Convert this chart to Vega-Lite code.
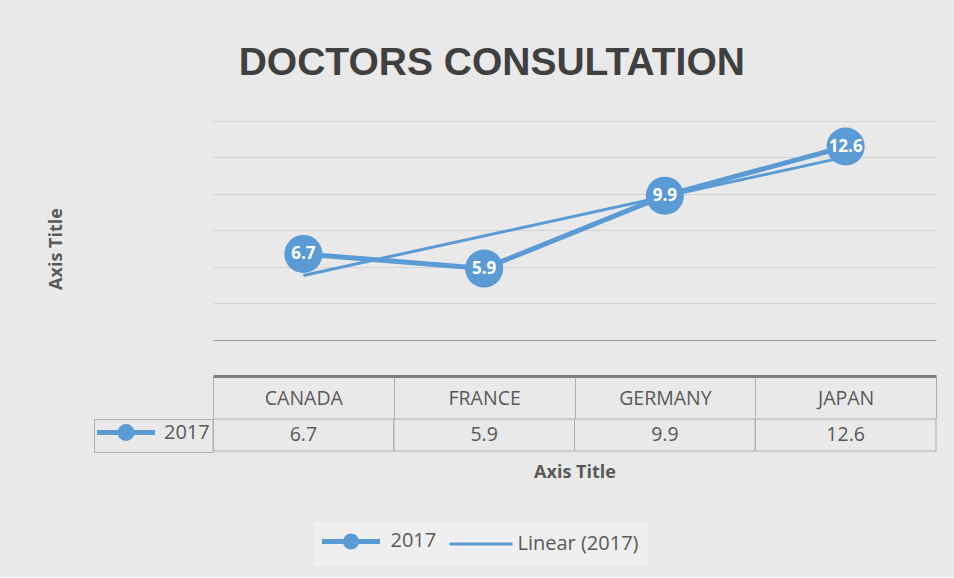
{
  "$schema": "https://vega.github.io/schema/vega-lite/v6.json",
  "background": "#e9e9e9",
  "padding": {"left": 47, "top": 44, "right": 18, "bottom": 11},
  "datasets": {
    "obs": [
      {"country": "CANADA", "value": 6.7, "series": "2017"},
      {"country": "FRANCE", "value": 5.9, "series": "2017"},
      {"country": "GERMANY", "value": 9.9, "series": "2017"},
      {"country": "JAPAN", "value": 12.6, "series": "2017"}
    ],
    "trend": [
      {"country": "CANADA", "value": 5.52, "series": "Linear (2017)"},
      {"country": "JAPAN", "value": 12.03, "series": "Linear (2017)"}
    ]
  },
  "title": {
    "text": "DOCTORS CONSULTATION",
    "font": "Liberation Sans",
    "fontSize": 39,
    "fontWeight": "bold",
    "color": "#404040",
    "anchor": "middle",
    "offset": 38
  },
  "spacing": 43,
  "bounds": "flush",
  "resolve": {"scale": {"stroke": "independent"}, "legend": {"stroke": "independent"}},
  "vconcat": [
    {
      "width": 723,
      "height": 255,
      "encoding": {
        "x": {
          "field": "country", "type": "nominal",
          "sort": ["CANADA", "FRANCE", "GERMANY", "JAPAN"],
          "scale": {"paddingInner": 0, "paddingOuter": 0},
          "axis": {
            "title": null, "labelAngle": 0, "labelFontSize": 19.5, "labelColor": "#595959",
            "labelPadding": -29, "tickBand": "extent", "ticks": true, "tickSize": 42,
            "tickColor": "#b0b0b0", "tickWidth": 1, "domainColor": "#808080", "domainWidth": 3, "grid": false
          }
        },
        "y": {
          "field": "value", "type": "quantitative",
          "scale": {"domain": [0, 14], "nice": false},
          "axis": {
            "title": "Axis Title", "titleFontSize": 18, "titleFontWeight": "bold", "titleColor": "#595959",
            "titlePadding": 148, "labels": false, "ticks": false, "domain": false,
            "values": [2, 4, 6, 8, 10, 12, 14],
            "gridColor": {"condition": {"test": "datum.value === 2", "value": "#9a9a9a"}, "value": "#d4d4d4"},
            "gridWidth": 1
          }
        }
      },
      "layer": [
        {
          "data": {"name": "obs"},
          "mark": {"type": "line", "strokeWidth": 5},
          "encoding": {
            "color": {
              "field": "series", "type": "nominal",
              "scale": {"domain": ["2017", "Linear (2017)"], "range": ["#5b9bd5", "#5b9bd5"]},
              "legend": {
                "orient": "none", "legendX": 100.5, "legendY": 401, "direction": "horizontal",
                "title": null, "padding": 8.5, "fillColor": "#efefef",
                "labelFontSize": 20, "labelColor": "#595959",
                "symbolSize": 256, "symbolStrokeWidth": 5, "symbolOffset": 18.5,
                "symbolFillColor": "#5b9bd5", "symbolStrokeColor": "#5b9bd5", "symbolOpacity": 1,
                "labelOffset": 29, "columnPadding": 6
              }
            }
          }
        },
        {
          "data": {"name": "obs"},
          "mark": {"type": "circle", "size": 1450, "opacity": 1},
          "encoding": {"color": {"field": "series", "type": "nominal"}}
        },
        {
          "data": {"name": "trend"},
          "mark": {"type": "line", "strokeWidth": 3},
          "encoding": {"color": {"field": "series", "type": "nominal"}}
        },
        {
          "data": {"name": "obs"},
          "mark": {"type": "point", "opacity": 0, "filled": true},
          "encoding": {
            "shape": {
              "field": "series", "type": "nominal",
              "scale": {
                "domain": ["2017", "Linear (2017)"],
                "range": [
                  "M-3.625,0H3.625M0.69,0A0.69,0.69 0 1,1 -0.69,0A0.69,0.69 0 1,1 0.69,0",
                  "M-3.625,0H4.25"
                ]
              },
              "legend": {
                "orient": "none", "legendX": 100.5, "legendY": 401, "direction": "horizontal",
                "title": null, "padding": 8.5, "fillColor": "#efefef",
                "labelFontSize": 20, "labelColor": "#595959",
                "symbolSize": 256, "symbolStrokeWidth": 5, "symbolOffset": 18.5,
                "symbolFillColor": "#5b9bd5", "symbolStrokeColor": "#5b9bd5", "symbolOpacity": 1,
                "labelOffset": 29, "columnPadding": 6
              }
            },
            "strokeWidth": {
              "field": "series", "type": "nominal",
              "scale": {"domain": ["2017", "Linear (2017)"], "range": [5, 3]},
              "legend": {
                "orient": "none", "legendX": 100.5, "legendY": 401, "direction": "horizontal",
                "title": null, "padding": 8.5, "fillColor": "#efefef",
                "labelFontSize": 20, "labelColor": "#595959",
                "symbolSize": 256, "symbolStrokeWidth": 5, "symbolOffset": 18.5,
                "symbolFillColor": "#5b9bd5", "symbolStrokeColor": "#5b9bd5", "symbolOpacity": 1,
                "labelOffset": 29, "columnPadding": 6
              }
            }
          }
        },
        {
          "data": {"name": "obs"},
          "mark": {"type": "text", "color": "white", "fontSize": 17, "fontWeight": "bold"},
          "encoding": {"text": {"field": "value", "type": "quantitative", "format": ".1f"}}
        }
      ]
    },
    {
      "width": 723,
      "height": 32,
      "data": {"name": "obs"},
      "encoding": {
        "x": {
          "field": "country", "type": "nominal",
          "sort": ["CANADA", "FRANCE", "GERMANY", "JAPAN"],
          "scale": {"paddingInner": 0, "paddingOuter": 0},
          "axis": {
            "title": "Axis Title", "labels": false, "ticks": false, "domain": false, "grid": false,
            "titleFontSize": 18, "titleFontWeight": "bold", "titleColor": "#595959", "titlePadding": 12
          }
        }
      },
      "layer": [
        {"mark": {"type": "rect", "fill": "transparent", "stroke": "#b0b0b0", "strokeWidth": 1}},
        {
          "mark": {"type": "text", "fontSize": 19.5, "color": "#595959"},
          "encoding": {"text": {"field": "value", "type": "quantitative", "format": ".1f"}}
        },
        {
          "mark": {
            "type": "point", "opacity": 0, "filled": true, "fill": "#5b9bd5", "strokeWidth": 5,
            "shape": "M-3.625,0H3.625M0.75,0A0.75,0.75 0 1,1 -0.75,0A0.75,0.75 0 1,1 0.75,0"
          },
          "encoding": {
            "stroke": {
              "field": "series", "type": "nominal",
              "scale": {"domain": ["2017"], "range": ["#5b9bd5"]},
              "legend": {
                "orient": "left", "offset": 0, "title": null, "padding": 3, "strokeColor": "#b0b0b0",
                "labelFontSize": 20, "labelColor": "#595959",
                "symbolType": "M-3.625,0H3.625M0.75,0A0.75,0.75 0 1,1 -0.75,0A0.75,0.75 0 1,1 0.75,0",
                "symbolSize": 256, "symbolStrokeWidth": 5, "symbolOffset": 18.5, "labelOffset": 27.5,
                "symbolFillColor": "#5b9bd5", "symbolStrokeColor": "#5b9bd5", "symbolOpacity": 1
              }
            }
          }
        }
      ]
    }
  ],
  "config": {
    "view": {"stroke": null},
    "font": "Open Sans"
  }
}
